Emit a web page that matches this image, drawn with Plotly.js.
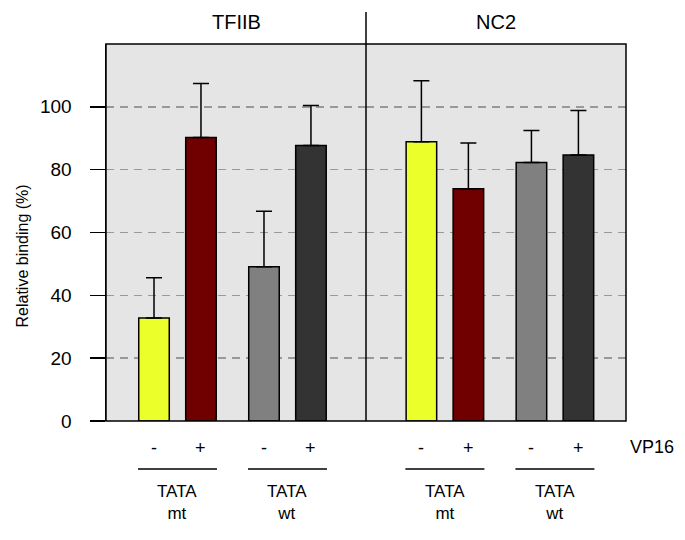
<!DOCTYPE html>
<html>
<head>
<meta charset="utf-8">
<script src="https://cdn.plot.ly/plotly-3.0.1.min.js"></script>
<style>html,body{margin:0;padding:0;background:#fff;}#chart{width:685px;height:540px;}</style>
</head>
<body>
<div id="chart"></div>
<script>
// ---- data ----
const panels = ["TFIIB", "NC2"];
const groups = ["TATA<br>mt", "TATA<br>wt"];
const vp16Labels = ["-", "+"];
// values: [TATA mt, TATA wt]
const tfiibMinus = [32.8, 49.1];
const tfiibPlus = [90.2, 87.7];
const nc2Minus = [88.9, 82.3];
const nc2Plus = [73.9, 84.7];
// upper error (SD)
const tfiibMinusErr = [12.8, 17.7];
const tfiibPlusErr = [17.2, 12.7];
const nc2MinusErr = [19.4, 10.2];
const nc2PlusErr = [14.6, 14.1];
const yTicks = [0, 20, 40, 60, 80, 100];
const yTitle = "Relative binding (%)";

// ---- styles ----
const FONT = "Liberation Sans, Arial, Helvetica, sans-serif";
const minusColors = ["#ebff2b", "#808080"];
const plusColors = ["#700000", "#333333"];

function barTrace(y, err, colors, xa, name) {
  return {
    type: "bar", x: groups, y: y, name: name, xaxis: xa, yaxis: "y",
    marker: {color: colors, line: {color: "#000", width: 1.5}},
    error_y: {type: "data", symmetric: false, array: err, arrayminus: err.map(() => 0),
              color: "#000", thickness: 1.5, width: 8},
    showlegend: false, hoverinfo: "skip"
  };
}

const data = [
  barTrace(tfiibMinus, tfiibMinusErr, minusColors, "x", "TFIIB -"),
  barTrace(tfiibPlus, tfiibPlusErr, plusColors, "x", "TFIIB +"),
  barTrace(nc2Minus, nc2MinusErr, minusColors, "x2", "NC2 -"),
  barTrace(nc2Plus, nc2PlusErr, plusColors, "x2", "NC2 +")
];

const annotations = [];
const shapes = [];
panels.forEach((p, pi) => {
  const xr = pi === 0 ? "x" : "x2";
  annotations.push({text: p, xref: "paper", yref: "paper", x: pi === 0 ? 0.25 : 0.75, y: 1,
    yshift: 22, xanchor: "center", yanchor: "middle", showarrow: false,
    font: {family: FONT, size: 20, color: "#000"}});
  groups.forEach((g, gi) => {
    vp16Labels.forEach((s, si) => {
      annotations.push({text: s, xref: xr, yref: "paper", x: g, y: 0, xshift: si === 0 ? -23.5 : 23.5,
        yshift: -27, xanchor: "center", yanchor: "middle", showarrow: false,
        font: {family: FONT, size: 18, color: "#000"}});
    });
    annotations.push({text: g, xref: xr, yref: "paper", x: g, y: 0, yshift: -81,
      xanchor: "center", yanchor: "middle", showarrow: false,
      font: {family: FONT, size: 17, color: "#000"}});
    shapes.push({type: "line", xref: xr, yref: "paper", xsizemode: "pixel", xanchor: gi,
      x0: -39.5, x1: 39.5, ysizemode: "pixel", yanchor: 0, y0: -48, y1: -48,
      line: {color: "#000", width: 1.5}});
  });
});
annotations.push({text: "VP16", xref: "paper", yref: "paper", x: 1, xshift: 26, y: 0, yshift: -26,
  xanchor: "center", yanchor: "middle", showarrow: false,
  font: {family: FONT, size: 18, color: "#000"}});
annotations.push({text: yTitle, xref: "paper", yref: "paper", x: 0, xshift: -84, y: 0.5, yshift: -24,
  textangle: -90, xanchor: "center", yanchor: "middle", showarrow: false,
  font: {family: FONT, size: 16, color: "#000"}});

shapes.push({type: "rect", xref: "paper", yref: "paper", x0: 0, x1: 1, y0: 0, y1: 1,
  line: {color: "#000", width: 1.5}});
shapes.push({type: "line", xref: "paper", yref: "paper", x0: 0.5, x1: 0.5,
  ysizemode: "pixel", yanchor: 0, y0: 0, y1: 409, line: {color: "#000", width: 1.5}});

const xCommon = {type: "category", showticklabels: false, ticks: "", showgrid: false,
  zeroline: false, showline: false, anchor: "y", fixedrange: true};

const layout = {
  width: 685, height: 540,
  margin: {l: 106, r: 59, t: 44, b: 119, pad: 0},
  paper_bgcolor: "#ffffff", plot_bgcolor: "#e5e5e5",
  font: {family: FONT, color: "#000"},
  barmode: "group", bargap: 0.146, bargroupgap: 0.35,
  xaxis: Object.assign({}, xCommon, {domain: [0, 0.5], range: [-0.65, 1.714]}),
  xaxis2: Object.assign({}, xCommon, {domain: [0.5, 1], range: [-0.717, 1.646]}),
  yaxis: {range: [0, 120], tickvals: yTicks, ticktext: yTicks.map(String), ticks: "outside",
    ticklen: 15, tickwidth: 1.5, tickcolor: "#000", ticklabelstandoff: 14,
    tickfont: {family: FONT, size: 19, color: "#000"},
    showgrid: true, gridcolor: "#999999", gridwidth: 1.5, griddash: "8px,6px",
    showline: true, linecolor: "#000", linewidth: 1.5, zeroline: false, anchor: "x",
    automargin: false, fixedrange: true},
  annotations: annotations,
  shapes: shapes
};

Plotly.newPlot("chart", data, layout, {staticPlot: true, displayModeBar: false});
</script>
</body>
</html>
